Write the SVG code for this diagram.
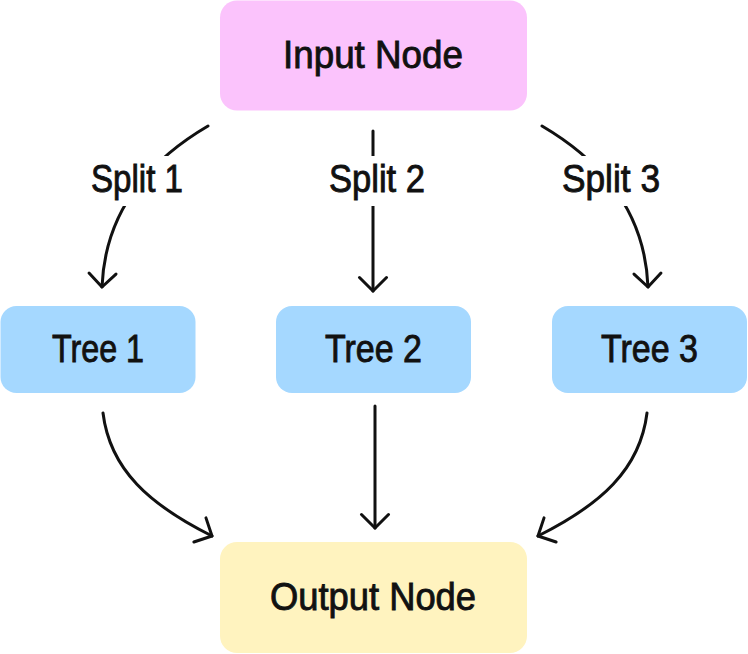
<svg xmlns="http://www.w3.org/2000/svg" width="748" height="654" viewBox="0 0 748 654">
  <style>
    .lbl { font-family: "Liberation Sans", Arial, sans-serif; font-size: 39px; fill: #111111; stroke: #111111; stroke-width: 0.9; text-anchor: middle; }
    .edge { fill: none; stroke: #111111; stroke-width: 3; stroke-linecap: round; stroke-linejoin: round; }
    .pink { fill: #fbc3fc; }
    .blue { fill: #a5d8ff; }
    .yellow { fill: #fff3bf; }
  </style>
  <defs>
    <marker id="ah" viewBox="-16 -16 18 32" refX="0" refY="0" markerWidth="18" markerHeight="32" markerUnits="userSpaceOnUse" orient="auto">
      <path d="M-13.5,-13.5 L0,0 L-13.5,13.5" fill="none" stroke="#111111" stroke-width="3" stroke-linecap="round" stroke-linejoin="round"/>
    </marker>
    <mask id="labelgap" maskUnits="userSpaceOnUse" x="0" y="0" width="748" height="654">
      <rect x="0" y="0" width="748" height="654" fill="#fff"/>
      <rect x="85" y="156" width="105" height="50" fill="#000"/>
      <rect x="325" y="156" width="105" height="50" fill="#000"/>
      <rect x="558" y="156" width="105" height="50" fill="#000"/>
    </mask>
  </defs>

  <g id="connectors">
    <g mask="url(#labelgap)">
      <path class="edge" d="M208,126 C150,160 105,210 102,287" marker-end="url(#ah)"/>
      <path class="edge" d="M373,131 L373,291" marker-end="url(#ah)"/>
      <path class="edge" d="M542,126 C600,160 645,210 648,287" marker-end="url(#ah)"/>
    </g>
    <path class="edge" d="M103,413 C110,470 150,505 212,536" marker-end="url(#ah)"/>
    <path class="edge" d="M375,406 L375,528" marker-end="url(#ah)"/>
    <path class="edge" d="M647,413 C640,470 600,505 538,536" marker-end="url(#ah)"/>
    <text class="lbl" x="137" y="192" textLength="92" lengthAdjust="spacingAndGlyphs">Split 1</text>
    <text class="lbl" x="377" y="192" textLength="96" lengthAdjust="spacingAndGlyphs">Split 2</text>
    <text class="lbl" x="611" y="192" textLength="98" lengthAdjust="spacingAndGlyphs">Split 3</text>
  </g>

  <g id="input-node">
    <rect class="pink" x="220" y="0.5" width="307" height="110" rx="17"/>
    <text class="lbl" x="373" y="68" textLength="180" lengthAdjust="spacingAndGlyphs">Input Node</text>
  </g>
  <g id="tree-1">
    <rect class="blue" x="0.5" y="306" width="195" height="87" rx="16"/>
    <text class="lbl" x="98" y="362" textLength="92" lengthAdjust="spacingAndGlyphs">Tree 1</text>
  </g>
  <g id="tree-2">
    <rect class="blue" x="276" y="306" width="195" height="87" rx="16"/>
    <text class="lbl" x="373.5" y="362" textLength="97" lengthAdjust="spacingAndGlyphs">Tree 2</text>
  </g>
  <g id="tree-3">
    <rect class="blue" x="552" y="306" width="195" height="87" rx="16"/>
    <text class="lbl" x="649.5" y="362" textLength="97" lengthAdjust="spacingAndGlyphs">Tree 3</text>
  </g>
  <g id="output-node">
    <rect class="yellow" x="220" y="542" width="307" height="111" rx="17"/>
    <text class="lbl" x="373" y="610" textLength="206" lengthAdjust="spacingAndGlyphs">Output Node</text>
  </g>
</svg>
